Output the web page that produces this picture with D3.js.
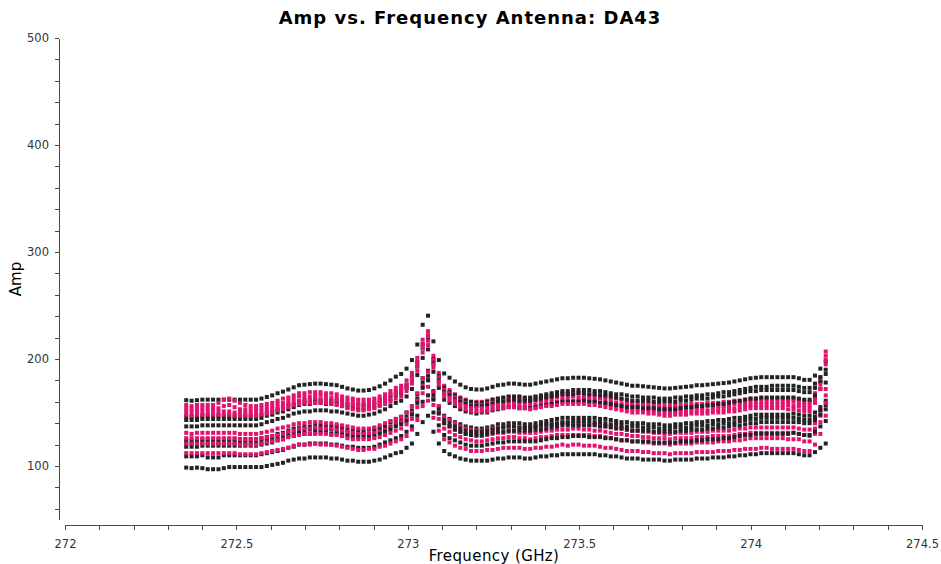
<!DOCTYPE html>
<html><head><meta charset="utf-8">
<script src="https://cdn.jsdelivr.net/npm/d3@7/dist/d3.min.js"></script>
<style>
body{margin:0;background:#fff}
svg{display:block}
text{font-family:"DejaVu Sans",sans-serif}
</style>
</head><body>
<svg id="chart" width="941" height="564"></svg>
<script>
// ---------- data ----------
const titleText = "Amp vs. Frequency Antenna: DA43";
const xLabelText = "Frequency (GHz)";
const yLabelText = "Amp";
const xMajorTicks = [272, 272.5, 273, 273.5, 274, 274.5];
const yMajorTicks = [100, 200, 300, 400, 500];
// spectral window channels (GHz)
const freqStart = 272.3536;
const chanWidth = 0.015677;
const nChan = 120;

// black (correlation 1) series, one per baseline
const black1 = [161.5,161,161.5,162,162,162,162,162,162,162,162,162,162,162,163,164.5,166,168,169.5,171.5,173.5,175.5,176,176.5,177,177,176.5,176,175.5,174,172.5,171.5,170.5,170.5,171,172.5,174.5,177,180,183.5,186,191,199,213.5,232,240.5,216.5,199,186.5,182.5,179,176,173.5,172,171.5,171.5,172.5,174,175.5,176,177,177,176.5,176,176,177,178,179,180,181,182,182,182.5,182.5,182.5,182,181.5,181,180,179,178,177,176,175,175,174.5,174,173.5,173,172.5,172.5,173,173.5,174,174.5,175.5,175.5,176,176.5,177,177.5,178,179,180,181,182,182.5,183,183,183,183,183,183,183,182,180.5,180.5,184.5,191,198];
const black2 = [146,146,146,147,147,147,147,147,147,147,147,147,147,147,148,150,151,153,155,157,158,160,161,161,162,162,162,161,161,160,158,157,157,157,157,159,161,163,166,169,172,176,184,197,214,222,200,184,173,169,166,163,161,160,159,159,160,162,163,164,165,165,165,164,164,165,166,167,168,169,170,170,171,171,171,171,170,170,169,168,167,167,166,165,165,164,164,164,163,163,163,164,164,165,165,166,166,167,167,168,169,169,170,171,172,173,174,174,174,175,175,175,175,175,174,173,173,177,183,190];
const black3 = [143,143,143,144,144,144,144,144,144,144,144,144,144,144,145,147,148,150,151,153,155,157,158,158,159,159,158,158,158,156,155,154,153,153,154,155,157,160,162,166,168,173,180,193,210,218,196,180,169,166,162,160,158,156,156,156,157,158,160,160,161,162,161,161,161,162,163,164,165,166,167,167,167,168,168,167,167,166,166,165,164,163,162,161,161,161,161,160,160,160,160,160,161,161,162,163,163,163,164,165,165,166,167,168,169,170,170,171,171,171,171,171,171,171,170,169,169,173,179,186];
const black4 = [137,137,137,138,138,138,138,138,138,138,138,138,138,138,139,141,142,144,145,147,149,150,151,151,152,152,152,151,151,150,149,148,147,147,148,149,151,153,156,159,161,165,172,185,201,209,188,173,162,159,156,153,151,150,149,150,150,152,153,154,155,155,154,154,154,155,156,157,158,159,160,160,160,160,161,160,160,159,159,158,157,156,155,155,155,154,154,154,153,153,153,153,154,155,155,156,156,157,157,158,158,159,160,161,162,163,163,164,164,164,164,164,164,164,163,162,162,166,172,178];
const black5 = [124,124,124,125,125,125,125,125,125,125,125,125,125,125,126,127,128,130,131,133,135,136,137,137,138,138,137,137,137,136,134,134,133,133,134,135,136,138,141,144,146,150,156,167,182,189,170,156,147,144,141,139,137,136,135,135,136,137,139,139,140,140,140,139,139,140,141,142,143,144,145,145,145,145,145,145,145,144,144,143,142,141,141,140,140,140,139,139,139,138,138,139,139,140,140,141,141,142,142,143,143,144,145,145,146,147,148,148,148,148,148,148,148,149,148,147,147,150,155,161];
const black6 = [121,121,121,122,122,122,122,122,122,122,122,122,122,122,123,124,125,127,128,130,131,133,133,134,134,134,134,134,133,132,131,130,130,130,130,132,133,135,137,140,142,146,152,163,178,184,166,153,143,140,137,135,133,132,132,132,133,134,135,136,137,137,136,136,136,137,138,139,139,140,141,141,142,142,142,142,141,141,140,139,139,138,137,137,137,136,136,136,135,135,135,136,136,136,137,138,138,138,139,139,140,140,141,142,143,144,144,145,145,145,145,145,145,145,144,143,143,146,152,157];
const black7 = [118,118,118,119,119,119,119,119,119,119,119,119,119,119,120,121,122,124,125,127,128,130,130,130,131,131,131,130,130,129,128,127,127,127,127,128,130,132,134,137,139,142,148,159,173,180,162,149,140,137,134,132,130,129,129,129,130,131,132,132,133,133,133,133,133,134,134,135,136,137,138,138,138,138,138,138,138,137,137,136,135,135,134,133,133,133,133,132,132,132,132,132,133,133,134,134,134,135,135,136,136,137,138,138,139,140,140,141,141,141,141,141,141,141,141,140,140,143,148,153];
const black8 = [109,109,109,110,108,108,108,110,110,110,110,110,110,110,111,112,113,114,115,117,118,120,120,121,121,121,121,120,120,119,118,118,117,117,117,118,120,122,124,126,128,132,137,147,160,166,150,138,129,126,124,122,120,119,119,119,120,121,122,122,123,123,123,123,123,123,124,125,126,126,127,127,128,128,128,127,127,127,126,126,125,124,124,123,123,123,123,122,122,122,122,122,123,123,123,124,124,125,125,125,126,126,127,128,129,129,130,130,130,130,130,130,130,131,130,129,129,132,137,142];
const black9 = [98.5,98,98.5,98,97,97,97,98,99,99,99,99,99,99,99,100,101,102,103,105,106,107,107,108,108,108,108,107,107,106,105,105,104,104,104,105,106,108,110,112,113,117,121,130,141,147,132,121,114,111,109,107,106,105,105,105,105,106,107,107,108,108,108,107,107,108,109,109,110,110,111,111,111,111,111,111,111,110,110,109,109,108,107,107,107,106,106,106,106,105,105,106,106,106,106,107,107,107,108,108,108,109,109,110,110,111,111,112,112,112,112,112,112,112,111,110,110,113,117,121];

// pink (correlation 2) series, one per baseline
const pink1 = [157,156,157,157,157,157,159,162,163,161,159,157,156,156,157,158,159,161,163,164,166,168,168,169,169,169,168,168,167,165,164,163,162,162,162,163,165,167,170,173,175,180,187,201,218,226,203,187,175,171,167,164,162,160,160,160,161,162,163,163,164,164,164,163,163,164,164,165,166,167,168,167,168,168,167,167,166,166,165,164,163,162,160,159,159,159,158,158,157,156,156,157,157,157,158,158,158,159,159,159,160,160,161,161,162,163,163,163,163,163,163,163,163,163,162,160,160,168,183,207];
const pink2 = [154,153,154,154,154,154,154,156,157,155,153,153,153,153,154,155,156,158,159,161,163,165,165,165,166,166,165,164,164,162,161,160,159,159,159,160,162,164,167,170,172,176,184,197,214,222,199,183,171,168,164,161,159,157,157,157,158,159,160,160,161,161,160,160,160,161,161,162,163,164,164,164,165,164,164,164,163,163,162,161,159,158,157,156,156,156,155,155,154,153,153,154,154,154,155,155,155,156,156,156,156,157,158,158,159,160,160,160,160,160,160,160,160,160,159,157,157,165,179,203];
const pink3 = [151,150,151,151,151,151,151,151,151,150,150,150,150,150,151,152,153,155,156,158,160,161,162,162,163,162,162,161,161,159,158,157,156,155,156,157,159,161,163,167,169,173,180,193,210,217,195,179,168,164,161,158,156,154,154,154,154,156,157,157,158,158,157,157,157,157,158,159,160,160,161,161,161,161,161,161,160,159,158,157,156,155,154,153,153,153,152,152,151,150,150,151,151,151,152,152,152,152,153,153,153,154,154,155,156,157,157,157,157,157,157,157,157,156,156,154,154,162,176,199];
const pink4 = [148,147,148,148,148,148,148,148,148,147,147,147,147,147,148,149,150,152,153,155,157,158,159,159,159,159,159,158,157,156,154,153,152,152,153,154,156,158,160,163,165,170,177,189,206,213,192,176,165,161,158,155,153,151,151,151,151,153,154,154,155,155,154,154,153,154,155,156,156,157,158,158,158,158,158,157,157,156,155,154,153,152,151,150,150,150,149,149,148,147,147,148,148,148,149,149,149,149,150,150,150,151,151,152,153,154,154,154,154,154,154,154,153,153,152,151,151,159,172,195];
const pink5 = [131,130,131,131,131,131,131,131,131,131,130,130,130,130,131,132,133,135,136,137,139,140,140,141,141,141,140,140,139,138,137,136,135,135,135,136,138,140,142,144,146,150,156,168,182,188,169,156,146,143,140,137,135,134,133,133,134,135,136,136,137,137,136,136,136,137,137,138,139,139,140,140,140,140,140,139,139,138,137,137,136,135,134,133,133,132,132,131,131,130,130,131,131,131,131,132,132,132,133,133,133,133,134,135,135,136,136,136,136,136,136,136,136,136,135,134,134,140,152,172];
const pink6 = [126,126,126,126,126,126,126,126,126,126,125,125,125,125,126,127,128,129,130,132,133,135,135,135,136,135,135,135,134,133,132,131,130,130,130,131,132,134,136,139,141,144,150,161,175,181,163,150,140,137,134,132,130,129,128,128,129,130,131,131,132,132,131,131,131,131,132,133,133,134,134,134,135,135,134,134,133,133,132,131,130,130,129,128,128,127,127,126,126,126,125,126,126,126,126,127,127,127,128,128,128,128,129,130,130,131,131,131,131,131,131,131,131,131,130,129,128,135,147,166];
const pink7 = [121,121,121,121,121,121,121,121,121,121,120,120,120,120,121,122,123,124,125,127,128,129,130,130,130,130,130,129,129,128,126,125,125,125,125,126,127,129,131,133,135,139,144,155,168,174,157,144,135,132,129,127,125,124,123,123,124,125,126,126,127,127,126,126,125,126,127,127,128,129,129,129,129,129,129,129,128,128,127,126,125,124,124,123,123,122,122,121,121,121,120,121,121,121,121,122,122,122,122,123,123,123,124,124,125,126,126,126,126,126,126,126,125,125,125,123,123,130,141,159];
const pink8 = [112,112,112,112,112,112,112,112,112,112,111,111,111,111,112,113,114,115,116,117,119,120,120,120,121,120,120,120,119,118,117,116,115,115,116,116,118,119,121,123,125,128,134,143,156,161,145,133,125,122,119,117,116,114,114,114,115,115,116,117,117,117,117,116,116,117,117,118,118,119,120,119,120,120,119,119,119,118,117,117,116,115,114,114,114,113,113,112,112,112,111,112,112,112,112,113,113,113,113,114,114,114,115,115,116,116,116,117,117,116,116,116,116,116,115,114,114,120,130,147];

const blackSeries = [black1, black2, black3, black4, black5, black6, black7, black8, black9];
const pinkSeries = [pink1, pink2, pink3, pink4, pink5, pink6, pink7, pink8];
const colors = { black: "#232323", pink: "#e4126f" };

// ---------- chart ----------
const svg = d3.select("#chart");
const x = d3.scaleLinear().domain([272, 274.5]).range([65, 922]);
const y = d3.scaleLinear().domain([50, 500]).range([519.5, 38]);
const chanFreqs = d3.range(nChan).map(i => freqStart + i * chanWidth);

// draw order: interleave baselines, black then pink
const drawList = [];
for (let i = 0; i < Math.max(blackSeries.length, pinkSeries.length); i++) {
  if (blackSeries[i]) drawList.push({ vals: blackSeries[i], color: colors.black });
  if (pinkSeries[i]) drawList.push({ vals: pinkSeries[i], color: colors.pink });
}
const pts = svg.append("g");
drawList.forEach(s => {
  pts.append("g").attr("fill", s.color)
    .selectAll("rect").data(s.vals).join("rect")
    .attr("x", (d, i) => x(chanFreqs[i]) - 2)
    .attr("y", d => y(d) - 2)
    .attr("width", 4).attr("height", 4);
});

// axes
const isMajorX = v => Math.abs(v * 2 - Math.round(v * 2)) < 1e-6;
const xMinor = d3.range(0, 26).map(i => 272 + i * 0.1);
const xAxis = d3.axisBottom(x)
  .tickValues(xMinor)
  .tickFormat(v => isMajorX(v) ? String(+v.toFixed(1)) : "")
  .tickSize(5).tickSizeOuter(0).tickPadding(10);
const gx = svg.append("g").attr("transform", "translate(0,525)").call(xAxis);

const yMinor = d3.range(60, 501, 20);
const yAxis = d3.axisLeft(y)
  .tickValues(yMinor)
  .tickFormat(v => yMajorTicks.includes(v) ? String(v) : "")
  .tickSize(4).tickSizeOuter(0).tickPadding(6);
const gy = svg.append("g").attr("transform", "translate(59,0)").call(yAxis);

[gx, gy].forEach(g => {
  g.select(".domain").attr("stroke", "#4a4a4a").attr("shape-rendering", "crispEdges");
  g.selectAll(".tick line").attr("stroke", "#4a4a4a").attr("shape-rendering", "crispEdges");
  g.selectAll(".tick text").attr("fill", "#333").style("font-size", "11.5px")
    .style("font-family", "'DejaVu Sans', sans-serif");
});

// titles
svg.append("text").attr("x", 470).attr("y", 24).attr("text-anchor", "middle")
  .style("font-size", "18px").style("font-weight", "bold").style("letter-spacing", "1px")
  .attr("fill", "#000").text(titleText);
svg.append("text").attr("x", 494).attr("y", 561).attr("text-anchor", "middle")
  .style("font-size", "15px").style("letter-spacing", "0.4px").attr("fill", "#000").text(xLabelText);
svg.append("text").attr("transform", "translate(21,279) rotate(-90)")
  .attr("text-anchor", "middle").style("font-size", "15px").attr("fill", "#000")
  .text(yLabelText);
</script>
</body></html>
